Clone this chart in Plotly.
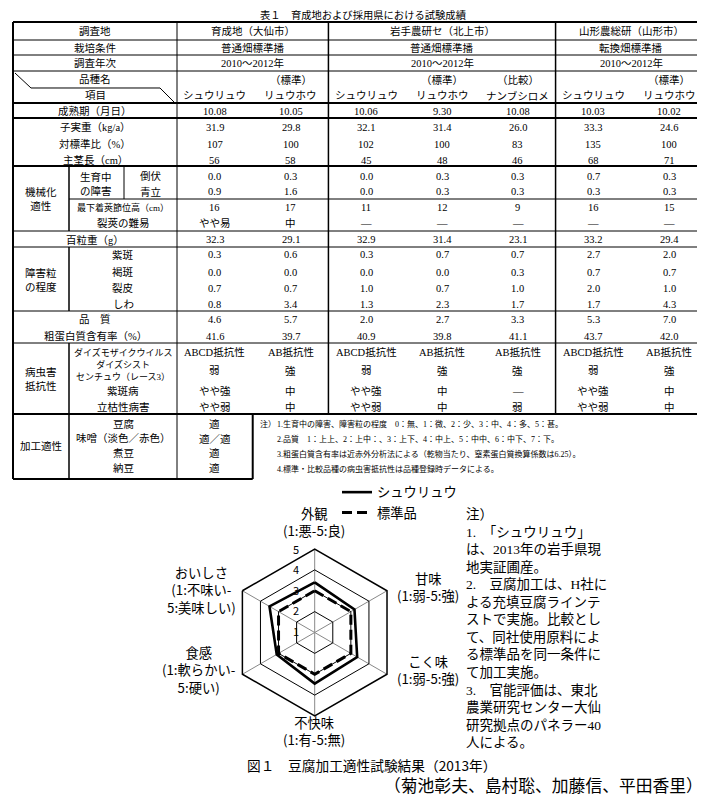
import plotly.graph_objects as go

W, H = 705, 799

# ---------------------------------------------------------------------------
# Table 1 data
table_title = "表１　育成地および採用県における試験成績"
sites = ["育成地（大仙市）", "岩手農研セ（北上市）", "山形農総研（山形市）"]
site_cols = [2, 3, 2]
conditions = ["普通畑標準播", "普通畑標準播", "転換畑標準播"]
years = ["2010～2012年", "2010～2012年", "2010～2012年"]
variety_tags = ["", "（標準）", "", "（標準）", "（比較）", "", "（標準）"]
varieties = ["シュウリュウ", "リュウホウ", "シュウリュウ", "リュウホウ", "ナンブシロメ", "シュウリュウ", "リュウホウ"]

maturity = ["10.08", "10.05", "10.06", "9.30", "10.08", "10.03", "10.02"]
seed_yield = ["31.9", "29.8", "32.1", "31.4", "26.0", "33.3", "24.6"]
yield_ratio = ["107", "100", "102", "100", "83", "135", "100"]
stem_length = ["56", "58", "45", "48", "46", "68", "71"]
lodging = ["0.0", "0.3", "0.0", "0.3", "0.3", "0.7", "0.3"]
green_stem = ["0.9", "1.6", "0.0", "0.3", "0.3", "0.3", "0.3"]
pod_height = ["16", "17", "11", "12", "9", "16", "15"]
shattering = ["やや易", "中", "—", "—", "—", "—", "—"]
seed_weight = ["32.3", "29.1", "32.9", "31.4", "23.1", "33.2", "29.4"]
purple_stain = ["0.3", "0.6", "0.3", "0.7", "0.7", "2.7", "2.0"]
brown_stain = ["0.0", "0.0", "0.0", "0.0", "0.3", "0.7", "0.7"]
seed_crack = ["0.7", "0.7", "1.0", "0.7", "1.0", "2.0", "1.0"]
wrinkle = ["0.8", "3.4", "1.3", "2.3", "1.7", "1.7", "4.3"]
quality = ["4.6", "5.7", "2.0", "2.7", "3.3", "5.3", "7.0"]
protein = ["41.6", "39.7", "40.9", "39.8", "41.1", "43.7", "42.0"]
mosaic_virus = ["ABCD抵抗性", "AB抵抗性", "ABCD抵抗性", "AB抵抗性", "AB抵抗性", "ABCD抵抗性", "AB抵抗性"]
cyst_nematode = ["弱", "強", "弱", "強", "強", "弱", "強"]
purple_blotch = ["やや強", "中", "やや強", "中", "—", "やや強", "中"]
damping_off = ["やや弱", "中", "やや弱", "中", "弱", "やや弱", "中"]
processing_items = ["豆腐", "味噌（淡色／赤色）", "煮豆", "納豆"]
processing_vals = ["適", "適／適", "適", "適"]
table_notes = [
    "1.生育中の障害、障害粒の程度　0：無、1：微、2：少、3：中、4：多、5：甚。",
    "2.品質　1：上上、2：上中：、3：上下、4：中上、5：中中、6：中下、7：下。",
    "3.粗蛋白質含有率は近赤外分析法による（乾物当たり、窒素蛋白質換算係数は6.25）。",
    "4.標準・比較品種の病虫害抵抗性は品種登録時データによる。",
]

# ---------------------------------------------------------------------------
# Figure 1 data (radar)
radar_axes = ["外観", "甘味", "こく味", "不快味", "食感", "おいしさ"]
radar_axis_text = [
    "外観<br>(1:悪-5:良)",
    "甘味<br>(1:弱-5:強)",
    "こく味<br>(1:弱-5:強)",
    "不快味<br>(1:有-5:無)",
    "食感<br>(1:軟らかい-<br>5:硬い)",
    "おいしさ<br>(1:不味い-<br>5:美味しい)",
]
shuuryuu = [3.4, 3.2, 3.35, 3.45, 3.1, 3.5]
standard = [3.0, 3.0, 3.0, 3.0, 3.0, 3.0]
radial_ticks = [1, 2, 3, 4, 5]
fig_notes = [
    "注）",
    "1.　「シュウリュウ」",
    "は、2013年の岩手県現",
    "地実証圃産。",
    "2.　豆腐加工は、H社に",
    "よる充填豆腐ラインテ",
    "ストで実施。比較とし",
    "て、同社使用原料によ",
    "る標準品を同一条件に",
    "て加工実施。",
    "3.　官能評価は、東北",
    "農業研究センター大仙",
    "研究拠点のパネラー40",
    "人による。",
]
fig_caption = "図１　豆腐加工適性試験結果（2013年）"
authors = "（菊池彰夫、島村聡、加藤信、平田香里）"

# ---------------------------------------------------------------------------
SERIF = "Liberation Serif, Noto Sans CJK JP"
GOTHIC = "Noto Sans CJK JP"

shapes = []
annotations = []


def px(x):
    return x / W


def py(y):
    return 1 - y / H


def hline(y, x0, x1, w=1):
    shapes.append(dict(type="line", xref="paper", yref="paper", x0=px(x0), x1=px(x1),
                       y0=py(y), y1=py(y), line=dict(color="black", width=w)))


def vline(x, y0, y1, w=1):
    shapes.append(dict(type="line", xref="paper", yref="paper", x0=px(x), x1=px(x),
                       y0=py(y0), y1=py(y1), line=dict(color="black", width=w)))


def text(x, y, s, size=10.5, family=SERIF, xanchor="center", yanchor="middle", align="center"):
    annotations.append(dict(x=px(x), y=py(y), xref="paper", yref="paper", text=s, showarrow=False,
                            xanchor=xanchor, yanchor=yanchor, align=align,
                            font=dict(family=family, size=size, color="black")))


# column layout of the table
L, G, LAB, SUB, R = 5, 61, 169, 116, 699
col_w = (R - LAB) / 7
col_x = [LAB + col_w * (i + 0.5) for i in range(7)]
lab_x = (L + LAB) / 2
sub_x = (G + LAB) / 2
grp_x = (L + G) / 2

text(355, 7, table_title, size=10.3)

# borders
hline(14, L, R, 2)
for y in (32, 47, 63):
    hline(y, L, R, 1)
for y in (95, 110, 158):
    hline(y, L, R, 2)
hline(191, G, R, 1)
for y in (223, 239, 303, 335):
    hline(y, L, R, 1)
hline(406, L, R, 2)
hline(471, L, LAB + col_w, 2)
vline(L, 14, 471, 2)
vline(R, 14, 406, 2)
vline(LAB, 14, 471, 1)
vline(LAB + col_w, 406, 471, 2)
start = 0
for n in site_cols[:-1]:
    start += n
    vline(LAB + col_w * start, 14, 406, 1.5)
for y0, y1 in ((158, 223), (239, 303), (335, 471)):
    vline(G, y0, y1, 1.5)
vline(SUB, 158, 191, 1)
shapes.append(dict(type="path", xref="paper", yref="paper",
                   path="M %f,%f L %f,%f L %f,%f L %f,%f" % (px(7), py(65), px(23), py(80),
                                                             px(152), py(80), px(167), py(95)),
                   line=dict(color="black", width=1)))

# header
text(lab_x, 23, "調査地")
text(lab_x, 40, "栽培条件")
text(lab_x, 55, "調査年次")
text(lab_x, 71, "品種名")
text(lab_x, 87, "項目")
start = 0
for s, c, yr, n in zip(sites, conditions, years, site_cols):
    cx = LAB + col_w * (start + n / 2)
    text(cx, 23, s)
    text(cx, 40, c)
    text(cx, 55, yr)
    start += n
for i in range(7):
    if variety_tags[i]:
        text(col_x[i], 72, variety_tags[i])
    text(col_x[i], 88, varieties[i], size=10.5)

# body rows
row_labels = [
    (lab_x, 103, "成熟期（月日）", 10.5), (lab_x, 119, "子実重（kg/a）", 10.5),
    (lab_x, 136, "対標準比（%）", 10.5), (lab_x, 152, "主茎長（cm）", 10.5),
    (SUB + (LAB - SUB) / 2, 168, "倒伏", 10.5), (SUB + (LAB - SUB) / 2, 184, "青立", 10.5),
    (sub_x, 199, "最下着莢節位高（cm）", 9), (sub_x, 215, "裂莢の難易", 10.5),
    (lab_x, 232, "百粒重（g）", 10.5),
    (sub_x, 247, "紫斑", 10.5), (sub_x, 264, "褐斑", 10.5), (sub_x, 280, "裂皮", 10.5), (sub_x, 296, "しわ", 10.5),
    (lab_x, 311, "品　質", 10.5), (lab_x, 328, "粗蛋白質含有率（%）", 10.5),
    (sub_x, 344, "ダイズモザイクウイルス", 9), (sub_x, 363, "ダイズシスト<br>センチュウ（レース3）", 9),
    (sub_x, 383, "紫斑病", 10.5), (sub_x, 399, "立枯性病害", 10.5),
]
for x, y, s, size in row_labels:
    text(x, y, s, size=size)
text((G + SUB) / 2, 176, "生育中<br>の障害")
text(grp_x, 191, "機械化<br>適性")
text(grp_x, 272, "障害粒<br>の程度")
text(grp_x, 371, "病虫害<br>抵抗性")
text(grp_x, 438, "加工適性")

rows = [
    (103, maturity), (119, seed_yield), (136, yield_ratio), (152, stem_length),
    (168, lodging), (184, green_stem), (199, pod_height), (215, shattering),
    (232, seed_weight), (247, purple_stain), (264, brown_stain), (280, seed_crack),
    (296, wrinkle), (311, quality), (328, protein), (344, mosaic_virus),
    (363, cyst_nematode), (383, purple_blotch), (399, damping_off),
]
for y, vals in rows:
    for i, v in enumerate(vals):
        text(col_x[i], y, v)

for k, (item, val) in enumerate(zip(processing_items, processing_vals)):
    y = 416 + k * 14.5
    text(sub_x, y, item)
    text(col_x[0], y, val)

text(250, 416, "注）", size=8, xanchor="left")
for k, s in enumerate(table_notes):
    text(267, 416 + k * 15, s, size=8, xanchor="left")

# ---------------------------------------------------------------------------
# Figure 1: radar chart
fig = go.Figure()
fig.add_trace(go.Scatterpolar(
    r=shuuryuu + shuuryuu[:1], theta=radar_axes + radar_axes[:1], mode="lines",
    name="シュウリュウ", line=dict(color="black", width=2.6)))
fig.add_trace(go.Scatterpolar(
    r=standard + standard[:1], theta=radar_axes + radar_axes[:1], mode="lines",
    name="標準品", line=dict(color="black", width=3, dash="10px,5px")))

cx, cy, rad = 306.7, 624.5, 83.5
label_pos = [(306, 514), (420, 579), (420, 662), (306, 723), (190, 662), (193, 582)]
for (x, y), s in zip(label_pos, radar_axis_text):
    text(x, y, s, size=13.3, family=GOTHIC)

# radial tick labels, left of the top spoke
r_pix = 81.5
for v in radial_ticks:
    text(cx - 19, cy - 2 - (v - radial_ticks[0]) / (radial_ticks[-1] - radial_ticks[0]) * r_pix,
         str(v), size=11, family=GOTHIC)

text(456, 497, "<br>".join(fig_notes), size=13.5, xanchor="left", yanchor="top", align="left")
text(363, 757, fig_caption, size=13.7, family=GOTHIC)
text(535, 777, authors, size=16.8, family=GOTHIC)

fig.update_layout(
    width=W, height=H,
    margin=dict(l=0, r=0, t=0, b=0),
    paper_bgcolor="white",
    showlegend=True,
    legend=dict(x=px(329), y=py(469), xanchor="left", yanchor="top",
                font=dict(family=GOTHIC, size=13.3, color="black"),
                bgcolor="rgba(0,0,0,0)", tracegroupgap=0),
    polar=dict(
        domain=dict(x=[px(cx - rad), px(cx + rad)], y=[py(cy + rad), py(cy - rad)]),
        gridshape="linear",
        bgcolor="white",
        radialaxis=dict(range=[1, 5], tickvals=radial_ticks, angle=90,
                        showticklabels=False, showline=False, ticks="",
                        gridcolor="black", gridwidth=1),
        angularaxis=dict(direction="clockwise", rotation=90, showticklabels=False, ticks="",
                         gridcolor="#888888", gridwidth=0.8,
                         showline=True, linecolor="black", linewidth=1.5),
    ),
    shapes=shapes,
    annotations=annotations,
)

fig.write_html("out.html")
